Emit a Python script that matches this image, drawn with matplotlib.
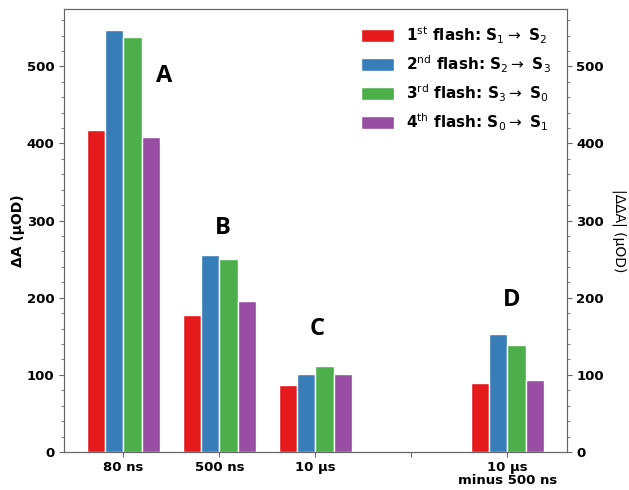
import numpy as np
import matplotlib
matplotlib.use("Agg")
import matplotlib.pyplot as plt
from matplotlib.ticker import MultipleLocator

# values (µOD)
groups = ["80 ns", "500 ns", "10 µs", "", "10 µs\nminus 500 ns"]
group_pos = [0, 1, 2, 4]
flash1 = [417, 177, 87, 89]
flash2 = [547, 255, 101, 153]
flash3 = [538, 250, 111, 139]
flash4 = [409, 196, 101, 93]

series = [flash1, flash2, flash3, flash4]
names = [r"1$^{\mathrm{st}}$ flash: S$_1\rightarrow$ S$_2$",
         r"2$^{\mathrm{nd}}$ flash: S$_2\rightarrow$ S$_3$",
         r"3$^{\mathrm{rd}}$ flash: S$_3\rightarrow$ S$_0$",
         r"4$^{\mathrm{th}}$ flash: S$_0\rightarrow$ S$_1$"]
colors = ["#e41a1c", "#377eb8", "#4daf4a", "#984ea3"]

letters = ["A", "B", "C", "D"]
letter_x = [0.42, 1.03, 2.02, 4.04]
letter_y = [487, 290, 159, 197]

plt.rcParams["font.family"] = "DejaVu Sans"

fig = plt.figure(figsize=(6.29, 4.9), dpi=100)
ax = fig.add_axes([0.102, 0.0776, 0.799, 0.904])

w = 0.19
x = np.array(group_pos, dtype=float)
for i, (vals, name, c) in enumerate(zip(series, names, colors)):
    ax.bar(x + (i - 1.5) * w, vals, width=w, color=c, edgecolor="white",
           linewidth=1, label=name)

for t, lx, ly in zip(letters, letter_x, letter_y):
    ax.text(lx, ly, t, fontsize=17, fontweight="bold", family="Open Sans",
            ha="center", va="center")

ax.set_xticks(range(len(groups)))
ax.set_xticklabels(groups, fontsize=9.5, fontweight="bold", linespacing=1.0)
ax.tick_params(axis="x", pad=3)
ax.yaxis.set_major_locator(MultipleLocator(100))
ax.yaxis.set_minor_locator(MultipleLocator(20))
ax.tick_params(axis="y", labelsize=9.5)
ax.set_ylabel("ΔA (µOD)", fontsize=10, fontweight="bold", labelpad=1)

ax2 = ax.twinx()
ax2.set_ylim(ax.get_ylim())
ax2.yaxis.set_major_locator(MultipleLocator(100))
ax2.yaxis.set_minor_locator(MultipleLocator(20))
ax2.tick_params(axis="y", labelsize=9.5)
ax2.set_ylabel("|ΔΔA| (µOD)", fontsize=10, rotation=270, labelpad=16)

for lbl in ax.get_yticklabels() + ax2.get_yticklabels():
    lbl.set_fontweight("bold")

for a in (ax, ax2):
    for s in a.spines.values():
        s.set_color("#666666")
    a.tick_params(which="both", color="#666666")

ax.legend(loc="upper right", frameon=False,
          prop={"size": 11, "weight": "bold"},
          handlelength=2.2, handleheight=0.9, borderaxespad=0.6)

fig.savefig("out.png", dpi=100)
